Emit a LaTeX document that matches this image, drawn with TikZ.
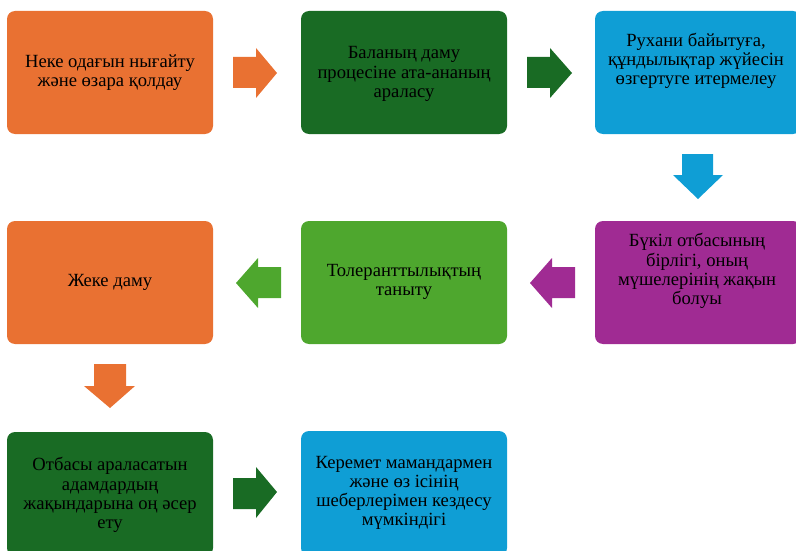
\documentclass[tikz,border=0pt]{standalone}
\usepackage{fontspec}
\setmainfont{Liberation Serif}
\definecolor{corange}{HTML}{E97132}
\definecolor{cdgreen}{HTML}{196B24}
\definecolor{cblue}{HTML}{0F9ED5}
\definecolor{cpurple}{HTML}{A02B93}
\definecolor{clgreen}{HTML}{4EA72E}
\tikzset{
  box/.style={rounded corners=8pt},
  txt/.style={align=center, font=\fontsize{18.6}{19.2}\selectfont, text=black, inner sep=0pt},
  barrow/.style={draw=none}
}
\begin{document}
\begin{tikzpicture}[x=1pt,y=-1pt]
\useasboundingbox (0,0) rectangle (796,551);
\clip (0,0) rectangle (796,551);
% boxes
\fill[box,corange] (7,11) rectangle (213,134);
\fill[box,cdgreen] (301,11) rectangle (507,134);
\fill[box,cblue] (595,11) rectangle (801,134);
\fill[box,corange] (7,221) rectangle (213,344);
\fill[box,clgreen] (301,221) rectangle (507,344);
\fill[box,cpurple] (595,221) rectangle (801,344);
\fill[box,cdgreen] (7,432) rectangle (213,556);
\fill[box,cblue] (301,431) rectangle (507,556);
% texts
\node[txt] (t1) at (110,73) {Неке одағын нығайту\\және өзара қолдау};
\node[txt] (t2) at (404,74) {Баланың даму\\процесіне ата-ананың\\араласу};
\node[txt] (t3) at (696,61) {Рухани байытуға,\\құндылықтар жүйесін\\өзгертуге итермелеу};
\node[txt] (t4) at (110,282) {Жеке даму};
\node[txt] (t5) at (404,282) {Толеранттылықтың\\таныту};
\node[txt] (t6) at (697,271) {Бүкіл отбасының\\бірлігі, оның\\мүшелерінің жақын\\болуы};
\node[txt] (t7) at (110,495) {Отбасы араласатын\\адамдардың\\жақындарына оң әсер\\ету};
\node[txt] (t8) at (404,493) {Керемет мамандармен\\және өз ісінің\\шеберлерімен кездесу\\мүмкіндігі};
% block arrows
\fill[corange] (233,57) -- (256,57) -- (256,48) -- (277,73) -- (256,98) -- (256,88) -- (233,88) -- cycle;
\fill[cdgreen] (527,57) -- (550,57) -- (550,48) -- (572,73) -- (550,98) -- (550,88) -- (527,88) -- cycle;
\fill[cblue] (682,154) -- (713,154) -- (713,175) -- (723,175) -- (698,199) -- (673,175) -- (682,175) -- cycle;
\fill[cpurple] (575,267) -- (552,267) -- (552,258) -- (530,283) -- (552,308) -- (552,298) -- (575,298) -- cycle;
\fill[clgreen] (281,267) -- (258,267) -- (258,258) -- (236,283) -- (258,308) -- (258,298) -- (281,298) -- cycle;
\fill[corange] (94,364) -- (126,364) -- (126,386) -- (135,386) -- (110,408) -- (84,386) -- (94,386) -- cycle;
\fill[cdgreen] (233,478) -- (256,478) -- (256,467) -- (277,492) -- (256,518) -- (256,509) -- (233,509) -- cycle;
\end{tikzpicture}
\end{document}
